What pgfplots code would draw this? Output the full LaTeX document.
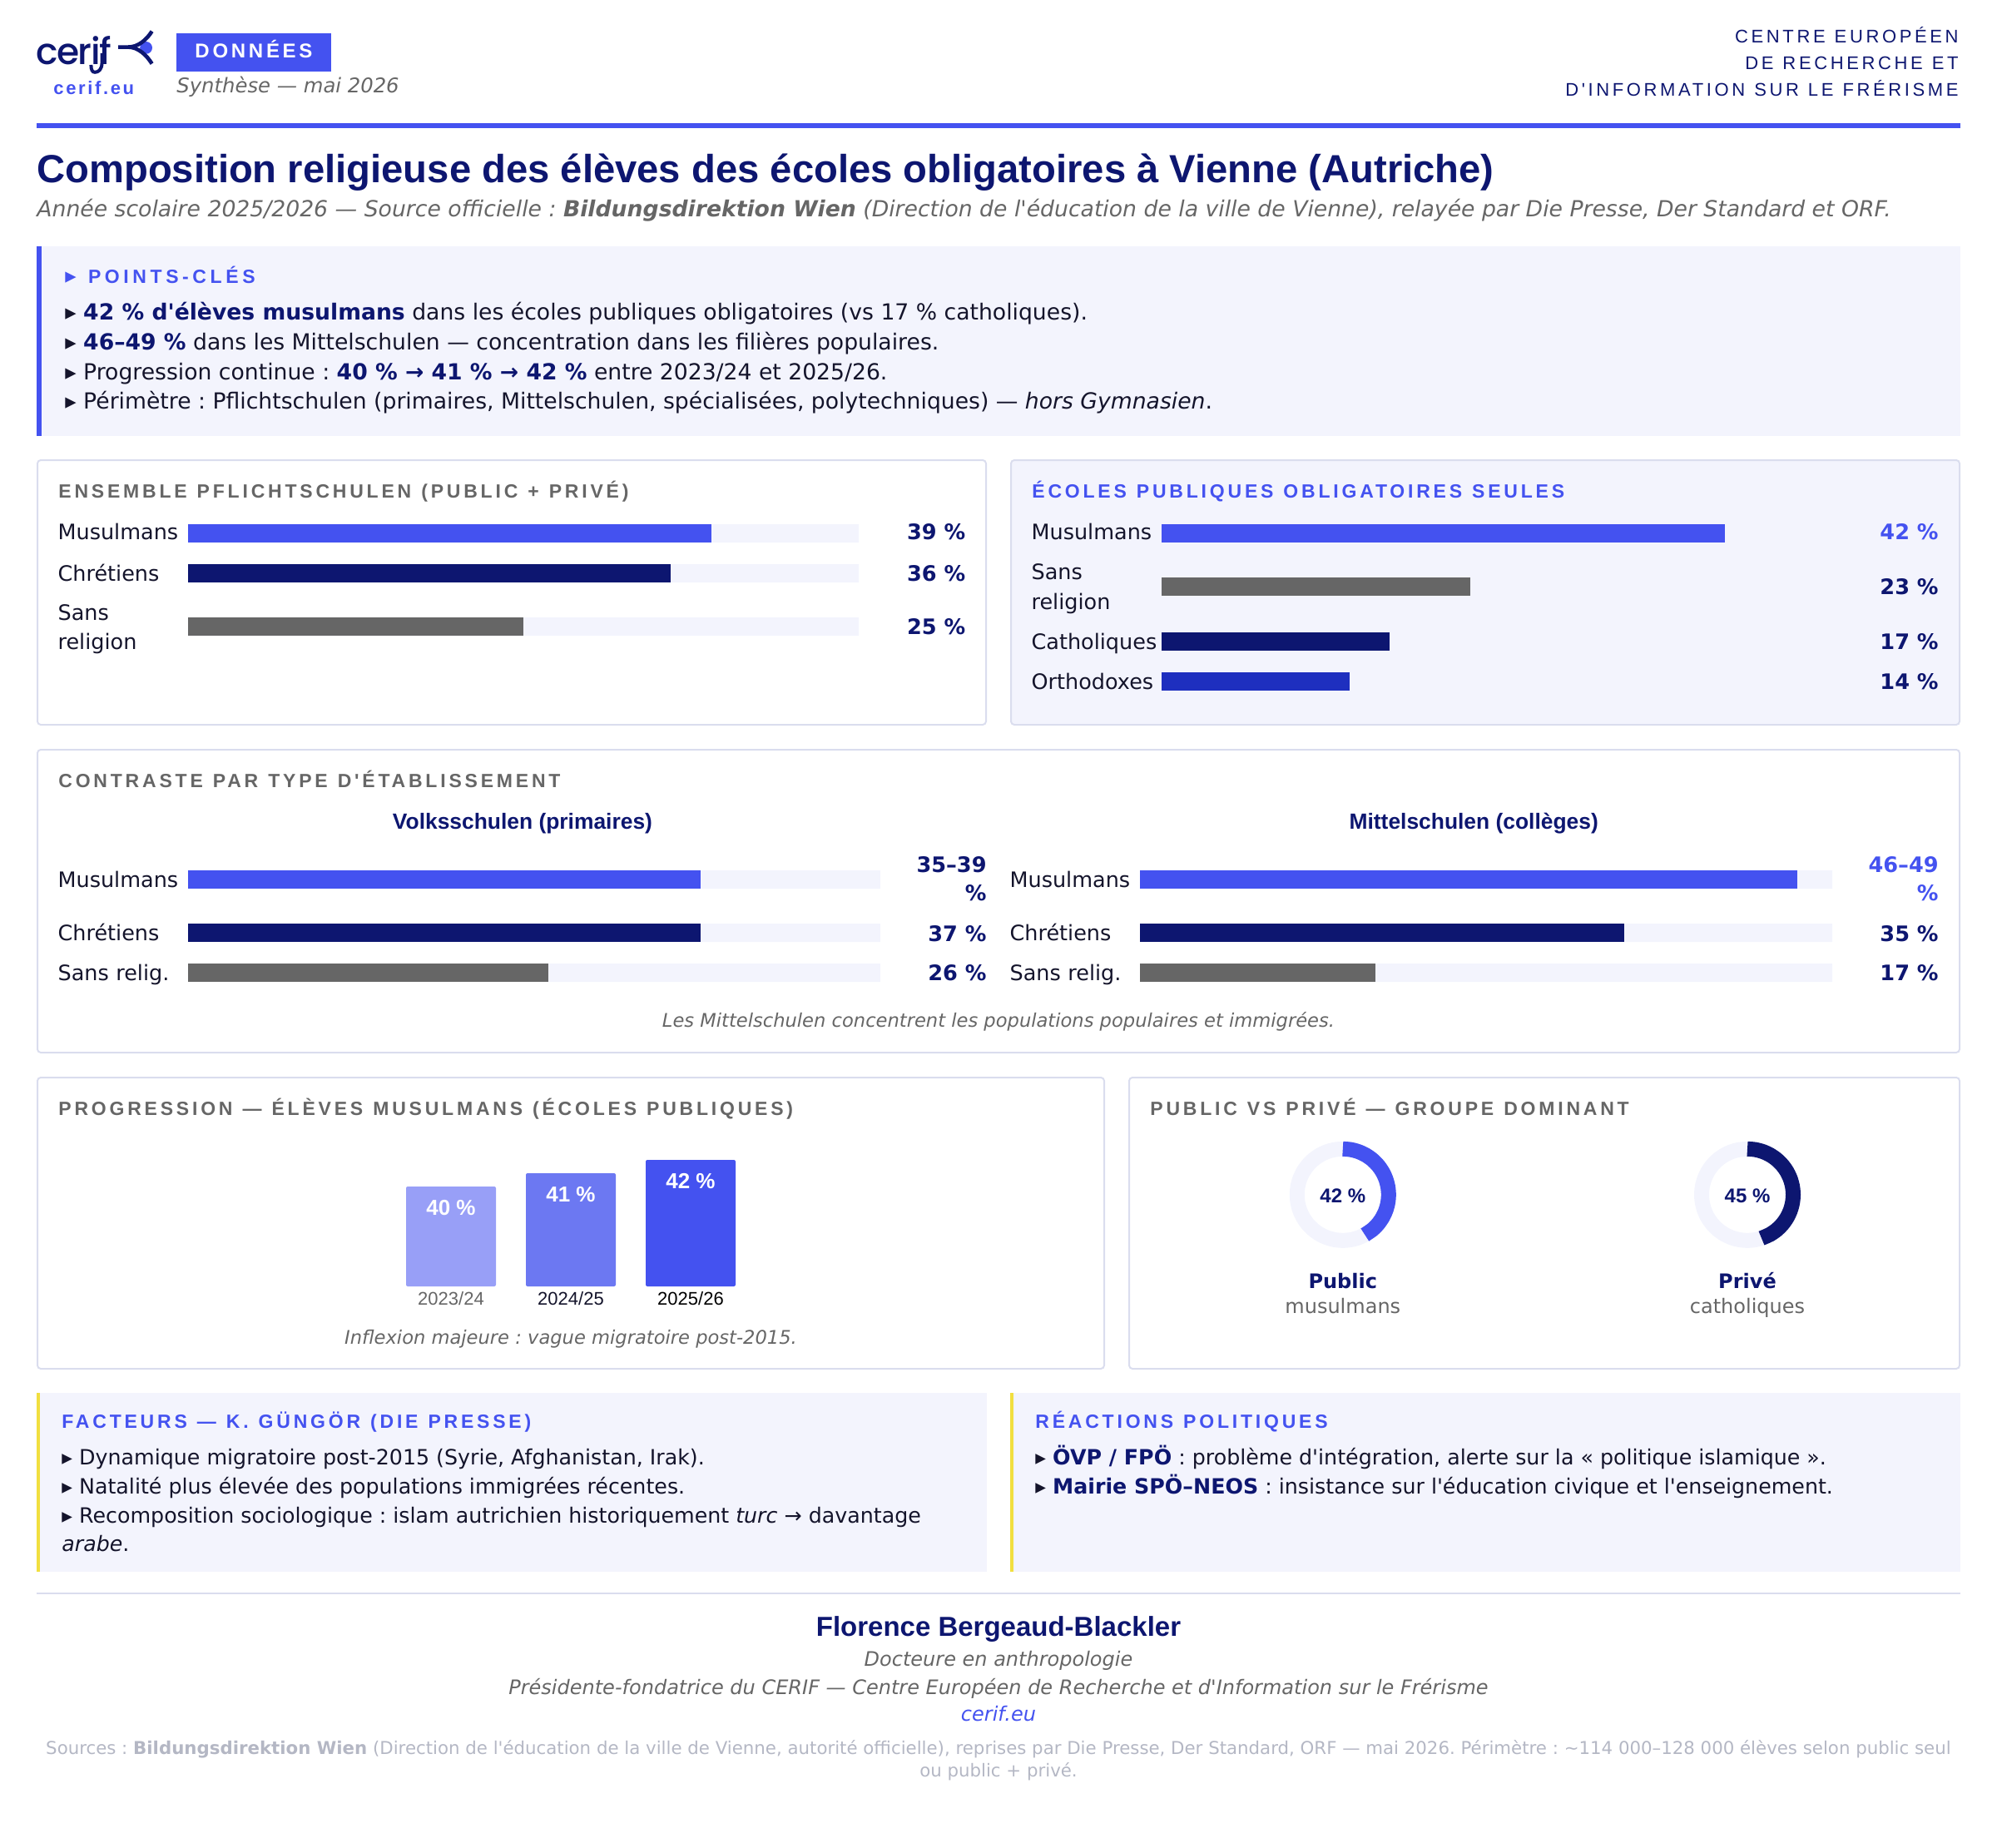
\documentclass[border=0pt]{standalone}
\usepackage{fontspec}
\usepackage{pgfplots}
\pgfplotsset{compat=1.18}
\usepgfplotslibrary{polar}
\setmainfont[Ligatures=TeXOff]{DejaVu Sans}
\newfontfamily\lib{Liberation Sans}
\newfontfamily\libls[LetterSpace=12]{Liberation Sans}
\newfontfamily\libhd[LetterSpace=16.5]{Liberation Sans}
\newfontfamily\libbg[LetterSpace=15.5]{Liberation Sans}
\newfontfamily\libpc[LetterSpace=20]{Liberation Sans}
\newfontfamily\djv{DejaVu Sans}
\newfontfamily\pop{Poppins Medium}
\newcommand\fs[1]{\fontsize{#1}{17.5pt}\selectfont}
\newcommand\fhd{\fs{11.5}\libhd\bfseries\setlength{\spaceskip}{6pt}}
\newcommand\frh{\fs{11}\libhd\setlength{\spaceskip}{5.5pt}}
\definecolor{cblue}{HTML}{4452F0}
\definecolor{cnavy}{HTML}{0D1670}
\definecolor{cgray}{HTML}{666666}
\definecolor{ctrack}{HTML}{F3F4FD}
\definecolor{cborder}{HTML}{DADDEE}
\definecolor{cortho}{HTML}{1E2FBF}
\definecolor{ctext}{HTML}{14142B}
\definecolor{cyel}{HTML}{F1DF3F}
\definecolor{cb1}{HTML}{989FF7}
\definecolor{cb2}{HTML}{6C78F2}
\definecolor{csrc}{HTML}{B4B7C4}
\newcommand\nb[1]{\textcolor{cnavy}{\textbf{#1}}}
\pgfplotsset{
  hb/.style={scale only axis,xbar,bar shift=0pt,bar width=11pt,y dir=reverse,xmin=0,xmax=50,clip=false,
    axis line style={draw=none},xtick=\empty,major tick length=0pt,ytick style={draw=none},
    yticklabel style={font=\fs{12.75},text=ctext,text width=78pt,align=left,inner sep=0pt,anchor=base east}},
  tr/.style={fill=ctrack,draw=none,forget plot},
}
\tikzset{
  L/.style={anchor=base west,inner sep=0pt},
  R/.style={anchor=base east,inner sep=0pt},
  C/.style={anchor=base,inner sep=0pt},
  H/.style={L,font=\fhd,text=cgray},
  HB/.style={L,font=\fhd,text=cblue},
  V/.style={R,font=\fs{12.8}\bfseries,text=cnavy},
  B/.style={L,font=\fs{13.32},text=ctext},
  B2/.style={L,font=\fs{12.65},text=ctext},
  P/.style={draw=cborder,line width=1pt,rounded corners=2pt},
}
\frenchspacing
\begin{document}
\begin{tikzpicture}[x=1pt,y=-1pt]
\frenchspacing
\path[use as bounding box] (0,0) rectangle (1200,1110.5);
% header
\node[L,font=\fontsize{22}{24}\selectfont\pop,text=cnavy] at (21.5,38.8) {c\kern-.8pt e\kern-.7pt r\kern-.7pt i\kern-.8pt f};
\draw[cnavy,line width=2pt] (61.3,32) -- (61.3,37.5) .. controls (61.3,42) and (59,43.4) .. (57,43.4) .. controls (55.5,43.4) and (54.7,42) .. (54.7,39);
\fill[cblue] (87.8,28.7) circle (3.7);
\draw[cnavy,line width=2.3pt] (71,28.3) -- (77,28.3) .. controls (83,28.3) and (88,24) .. (91.3,18.8);
\draw[cnavy,line width=2.3pt] (77,28.3) .. controls (83,28.3) and (88,33) .. (91.3,38.3);
\node[C,font=\fs{11}\libls\bfseries,text=cblue] at (56.4,56.7) {cerif.eu};
\fill[cblue] (106,20) rectangle (199,43);
\node[C,font=\fs{12}\libbg\bfseries,text=white] at (152.5,34.7) {DONNÉES};
\node[L,font=\fs{12.15}\itshape,text=cgray] at (106,55.8) {Synthèse — mai 2026};
\node[R,font=\frh,text=cnavy] at (1177,25.8) {CENTRE EUROPÉEN};
\node[R,font=\frh,text=cnavy] at (1177,41.8) {DE RECHERCHE ET};
\node[R,font=\frh,text=cnavy] at (1177,57.8) {D'INFORMATION SUR LE FRÉRISME};
\fill[cblue] (22,74) rectangle (1178,77);
\node[L,font=\fs{23.6}\lib\bfseries,text=cnavy] at (22,109.7) {Composition religieuse des élèves des écoles obligatoires à Vienne (Autriche)};
\node[L,font=\fs{13.33}\itshape,text=cgray] at (22,130) {Année scolaire 2025/2026 — Source officielle : \textbf{Bildungsdirektion Wien} (Direction de l'éducation de la ville de Vienne), relayée par Die Presse, Der Standard et ORF.};
% key box
\fill[ctrack] (22,148) rectangle (1178,262);
\fill[cblue] (22,148) rectangle (25,262);
\node[B,text=cblue] at (39,170) {▸};
\node[L,font=\fs{11.5}\libpc\bfseries,text=cblue] at (52.8,170) {POINTS-CLÉS};
\node[B] at (39,192) {▸ \nb{42 \% d'élèves musulmans} dans les écoles publiques obligatoires (vs 17 \% catholiques).};
\node[B] at (39,210) {▸ \nb{46–49 \%} dans les Mittelschulen — concentration dans les filières populaires.};
\node[B] at (39,228) {▸ Progression continue : \nb{40 \% → 41 \% → 42 \%} entre 2023/24 et 2025/26.};
\node[B] at (39,245.6) {▸ Périmètre : Pflichtschulen (primaires, Mittelschulen, spécialisées, polytechniques) — \textit{hors Gymnasien}.};
% panels
\draw[P] (22.5,276.5) rectangle (592.5,435.5);
\draw[P,fill=ctrack] (607.5,276.5) rectangle (1177.5,435.5);
\draw[P] (22.5,450.5) rectangle (1177.5,632.5);
\draw[P] (22.5,647.5) rectangle (663.5,822.5);
\draw[P] (678.5,647.5) rectangle (1177.5,822.5);
% panel A
\node[H] at (35,299) {ENSEMBLE PFLICHTSCHULEN (PUBLIC + PRIVÉ)};
\begin{axis}[hb,at={(113pt,-305pt)},anchor=north west,width=403pt,height=87pt,ymin=305,ymax=392,
  ytick={324,349,372.5,390},yticklabels={Musulmans,Chrétiens,Sans,religion}]
\addplot[tr] coordinates {(50,320.5) (50,344.5) (50,376.5)};
\addplot[fill=cblue,draw=none] coordinates {(39,320.5)};
\addplot[fill=cnavy,draw=none] coordinates {(36,344.5)};
\addplot[fill=cgray,draw=none] coordinates {(25,376.5)};
\end{axis}
\node[V] at (580.3,324) {39 \%};
\node[V] at (580.3,349) {36 \%};
\node[V] at (580.3,381) {25 \%};
% panel B
\node[HB] at (620,299) {ÉCOLES PUBLIQUES OBLIGATOIRES SEULES};
\begin{axis}[hb,at={(698pt,-305pt)},anchor=north west,width=403pt,height=120pt,ymin=305,ymax=425,
  ytick={324,348.4,366,390,414},yticklabels={Musulmans,Sans,religion,Catholiques,Orthodoxes}]
\addplot[fill=cblue,draw=none] coordinates {(42,320.5)};
\addplot[fill=cgray,draw=none] coordinates {(23,352.5)};
\addplot[fill=cnavy,draw=none] coordinates {(17,385.5)};
\addplot[fill=cortho,draw=none] coordinates {(14,409.5)};
\end{axis}
\node[V,text=cblue] at (1165,324) {42 \%};
\node[V] at (1165,357) {23 \%};
\node[V] at (1165,390) {17 \%};
\node[V] at (1165,414) {14 \%};
% panel C
\node[H] at (35,473) {CONTRASTE PAR TYPE D'ÉTABLISSEMENT};
\node[C,font=\fs{13.2}\lib\bfseries,text=cnavy] at (314,498) {Volksschulen (primaires)};
\node[C,font=\fs{13.2}\lib\bfseries,text=cnavy] at (885.6,498) {Mittelschulen (collèges)};
\begin{axis}[hb,at={(113pt,-513pt)},anchor=north west,width=416pt,height=87pt,ymin=513,ymax=600,
  ytick={533,565,589},yticklabels={Musulmans,Chrétiens,Sans relig.}]
\addplot[tr] coordinates {(50,528.5) (50,560.5) (50,584.5)};
\addplot[fill=cblue,draw=none] coordinates {(37,528.5)};
\addplot[fill=cnavy,draw=none] coordinates {(37,560.5)};
\addplot[fill=cgray,draw=none] coordinates {(26,584.5)};
\end{axis}
\begin{axis}[hb,at={(685pt,-513pt)},anchor=north west,width=416pt,height=87pt,ymin=513,ymax=600,
  ytick={533,565,589},yticklabels={Musulmans,Chrétiens,Sans relig.}]
\addplot[tr] coordinates {(50,528.5) (50,560.5) (50,584.5)};
\addplot[fill=cblue,draw=none] coordinates {(47.5,528.5)};
\addplot[fill=cnavy,draw=none] coordinates {(35,560.5)};
\addplot[fill=cgray,draw=none] coordinates {(17,584.5)};
\end{axis}
\node[V] at (593,524) {35–39};
\node[V] at (593,541) {\%};
\node[V] at (593,565.5) {37 \%};
\node[V] at (593,589) {26 \%};
\node[V,text=cblue] at (1165,524) {46–49};
\node[V,text=cblue] at (1165,541) {\%};
\node[V] at (1165,565.5) {35 \%};
\node[V] at (1165,589) {17 \%};
\node[C,font=\fs{11.3}\itshape,text=cgray] at (600,617) {Les Mittelschulen concentrent les populations populaires et immigrées.};
% panel D
\node[H] at (35,670) {PROGRESSION — ÉLÈVES MUSULMANS (ÉCOLES PUBLIQUES)};
\begin{axis}[scale only axis,at={(235pt,-773pt)},anchor=south west,width=216pt,height=76pt,
  ybar,bar shift=0pt,bar width=54pt,xmin=-0.5,xmax=2.5,ymin=32.5,ymax=42,clip=false,
  axis line style={draw=none},major tick length=0pt,ytick=\empty,xtick={0,1,2},
  xticklabels={\textcolor{cgray}{2023/24},\textcolor{ctext}{2024/25},\textcolor{black}{2025/26}},
  xticklabel style={font=\fs{11}\lib,inner sep=0pt,yshift=-3.2pt},
  /pgf/number format/assume math mode=true,
  nodes near coords={\pgfmathprintnumber{\pgfplotspointmeta}~\%},
  nodes near coords style={anchor=north,inner sep=0pt,font=\fs{13}\lib\bfseries,text=white,yshift=-7.8pt}]
\addplot[fill=cb1,draw=none,rounded corners=1pt] coordinates {(0,40)};
\addplot[fill=cb2,draw=none,rounded corners=1pt] coordinates {(1,41)};
\addplot[fill=cblue,draw=none,rounded corners=1pt] coordinates {(2,42)};
\end{axis}
\node[C,font=\fs{11.3}\itshape,text=cgray] at (343,807.5) {Inflexion majeure : vague migratoire post-2015.};
% panel E
\node[H] at (691,670) {PUBLIC VS PRIVÉ — GROUPE DOMINANT};
\begin{polaraxis}[at={(806.9pt,-717.9pt)},anchor=center,scale only axis,width=55pt,height=55pt,xmin=0,xmax=360,ymin=0,ymax=27.5,hide axis,clip=false]
\addplot[ctrack,line width=9pt,smooth] coordinates {(90,27.5)(100,27.5)(110,27.5)(120,27.5)(130,27.5)(140,27.5)(150,27.5)(160,27.5)(170,27.5)(180,27.5)(190,27.5)(200,27.5)(210,27.5)(220,27.5)(230,27.5)(240,27.5)(250,27.5)(260,27.5)(270,27.5)(280,27.5)(290,27.5)(300,27.5)(310,27.5)(320,27.5)(330,27.5)(340,27.5)(350,27.5)(360,27.5)(370,27.5)(380,27.5)(390,27.5)(400,27.5)(410,27.5)(420,27.5)(430,27.5)(440,27.5)(450,27.5)};
\addplot[cblue,line width=9pt,smooth] coordinates {(90,27.5)(80,27.5)(70,27.5)(60,27.5)(50,27.5)(40,27.5)(30,27.5)(20,27.5)(10,27.5)(0,27.5)(350,27.5)(340,27.5)(330,27.5)(320,27.5)(310,27.5)(298.8,27.5)};
\end{polaraxis}
\begin{polaraxis}[at={(1050pt,-717.9pt)},anchor=center,scale only axis,width=55pt,height=55pt,xmin=0,xmax=360,ymin=0,ymax=27.5,hide axis,clip=false]
\addplot[ctrack,line width=9pt,smooth] coordinates {(90,27.5)(100,27.5)(110,27.5)(120,27.5)(130,27.5)(140,27.5)(150,27.5)(160,27.5)(170,27.5)(180,27.5)(190,27.5)(200,27.5)(210,27.5)(220,27.5)(230,27.5)(240,27.5)(250,27.5)(260,27.5)(270,27.5)(280,27.5)(290,27.5)(300,27.5)(310,27.5)(320,27.5)(330,27.5)(340,27.5)(350,27.5)(360,27.5)(370,27.5)(380,27.5)(390,27.5)(400,27.5)(410,27.5)(420,27.5)(430,27.5)(440,27.5)(450,27.5)};
\addplot[cnavy,line width=9pt,smooth] coordinates {(90,27.5)(80,27.5)(70,27.5)(60,27.5)(50,27.5)(40,27.5)(30,27.5)(20,27.5)(10,27.5)(0,27.5)(350,27.5)(340,27.5)(330,27.5)(320,27.5)(310,27.5)(300,27.5)(288,27.5)};
\end{polaraxis}
\node[anchor=center,inner sep=0pt,font=\fs{12}\lib\bfseries,text=cnavy] at (806.9,718.5) {42 \%};
\node[anchor=center,inner sep=0pt,font=\fs{12}\lib\bfseries,text=cnavy] at (1050,718.5) {45 \%};
\node[C,font=\fs{12}\bfseries,text=cnavy] at (806.9,774) {Public};
\node[C,font=\fs{12},text=cgray] at (806.9,789) {musulmans};
\node[C,font=\fs{12}\bfseries,text=cnavy] at (1050,774) {Privé};
\node[C,font=\fs{12},text=cgray] at (1050,789) {catholiques};
% boxes F, G
\fill[ctrack] (22,837) rectangle (593,944.5);
\fill[cyel] (22,837) rectangle (24,944.5);
\fill[ctrack] (607,837) rectangle (1178,944.5);
\fill[cyel] (607,837) rectangle (609,944.5);
\node[HB] at (37,858) {FACTEURS — K. GÜNGÖR (DIE PRESSE)};
\node[B2] at (37,880) {▸ Dynamique migratoire post-2015 (Syrie, Afghanistan, Irak).};
\node[B2] at (37,897.7) {▸ Natalité plus élevée des populations immigrées récentes.};
\node[B2] at (37,915) {▸ Recomposition sociologique : islam autrichien historiquement \textit{turc} → davantage};
\node[B2] at (37,932) {\textit{arabe}.};
\node[HB] at (622,858) {RÉACTIONS POLITIQUES};
\node[B2] at (622,880) {▸ \nb{ÖVP / FPÖ} : problème d'intégration, alerte sur la « politique islamique ».};
\node[B2] at (622,897.7) {▸ \nb{Mairie SPÖ–NEOS} : insistance sur l'éducation civique et l'enseignement.};
% footer
\fill[cborder] (22,957) rectangle (1178,958);
\node[C,font=\fs{16.5}\lib\bfseries,text=cnavy] at (600,983) {Florence Bergeaud-Blackler};
\node[C,font=\fs{12}\itshape,text=cgray] at (600,1001) {Docteure en anthropologie};
\node[C,font=\fs{12}\itshape,text=cgray] at (600,1018) {Présidente-fondatrice du CERIF — Centre Européen de Recherche et d'Information sur le Frérisme};
\node[C,font=\fs{12}\itshape,text=cblue] at (600,1034) {cerif.eu};
\node[C,font=\fs{10.65},text=csrc] at (600,1054) {Sources : \textbf{Bildungsdirektion Wien} (Direction de l'éducation de la ville de Vienne, autorité officielle), reprises par Die Presse, Der Standard, ORF — mai 2026. Périmètre : \textasciitilde114 000–128 000 élèves selon public seul};
\node[C,font=\fs{10.65},text=csrc] at (600,1067.6) {ou public + privé.};
\end{tikzpicture}
\end{document}
